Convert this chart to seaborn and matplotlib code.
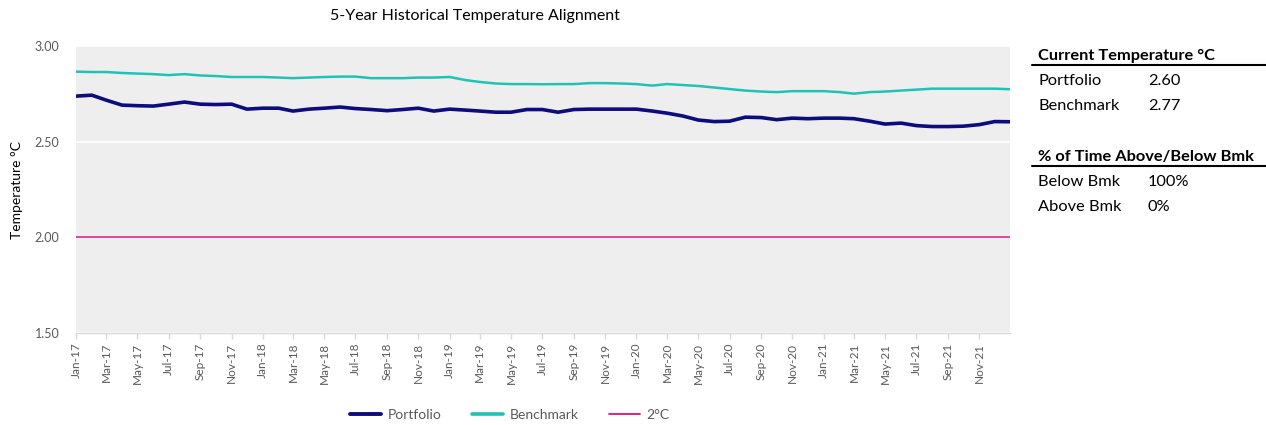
import matplotlib
matplotlib.use("Agg")
import matplotlib.pyplot as plt
import matplotlib.dates as mdates
from matplotlib.lines import Line2D
import seaborn as sns
import pandas as pd
import numpy as np

# ---------------- data ----------------
dates = list(pd.date_range("2017-01-01", periods=60, freq="MS")) + [pd.Timestamp("2021-12-31")]

portfolio = [2.738, 2.743, 2.717, 2.691, 2.688, 2.686, 2.696, 2.707, 2.696, 2.694,
             2.696, 2.670, 2.675, 2.675, 2.660, 2.670, 2.675, 2.681, 2.673, 2.668,
             2.662, 2.668, 2.675, 2.660, 2.670, 2.665, 2.660, 2.654, 2.654, 2.668,
             2.668, 2.654, 2.668, 2.670, 2.670, 2.670, 2.670, 2.660, 2.649, 2.634,
             2.613, 2.605, 2.607, 2.628, 2.626, 2.615, 2.623, 2.620, 2.623, 2.623,
             2.620, 2.607, 2.592, 2.597, 2.584, 2.579, 2.579, 2.581, 2.589, 2.605,
             2.604]

benchmark = [2.866, 2.864, 2.864, 2.859, 2.856, 2.853, 2.848, 2.853, 2.846, 2.843,
             2.838, 2.838, 2.838, 2.835, 2.832, 2.835, 2.838, 2.840, 2.840, 2.832,
             2.832, 2.832, 2.835, 2.835, 2.838, 2.822, 2.812, 2.804, 2.801, 2.801,
             2.800, 2.801, 2.801, 2.806, 2.806, 2.804, 2.801, 2.793, 2.801, 2.796,
             2.791, 2.783, 2.775, 2.767, 2.762, 2.759, 2.764, 2.764, 2.764, 2.759,
             2.751, 2.759, 2.762, 2.767, 2.772, 2.777, 2.777, 2.777, 2.777, 2.777,
             2.774]

two_deg = [2.00] * len(dates)

series_names = ["Portfolio", "Benchmark", "2°C"]
series_colors = ["#0C0C7E", "#1EC3B6", "#D9127F"]
series_widths = [2.6, 1.8, 1.1]

yticks = [1.50, 2.00, 2.50, 3.00]

table1_title = "Current Temperature \u00b0C"
table1_rows = [("Portfolio", "2.60"), ("Benchmark", "2.77")]
table2_title = "% of Time Above/Below Bmk"
table2_rows = [("Below Bmk", "100%"), ("Above Bmk", "0%")]

# ---------------- plotting ----------------
sns.set_theme(style="white")
plt.rcParams["font.family"] = ["Lato", "DejaVu Sans"]

df = pd.DataFrame({"date": dates * 3,
                   "value": portfolio + benchmark + two_deg,
                   "series": sum([[n] * len(dates) for n in series_names], [])})

fig = plt.figure(figsize=(12.66, 4.25), dpi=100)
ax = fig.add_axes([76 / 1266, 1 - 333 / 425, (1010 - 76) / 1266, (333 - 46) / 425])
ax.set_facecolor("#EEEEEE")

for name, col, lw in zip(series_names, series_colors, series_widths):
    sub = df[df["series"] == name]
    sns.lineplot(data=sub, x="date", y="value", ax=ax, color=col, linewidth=lw,
                 legend=False, zorder=3 if name != "2°C" else 2)

ax.set_ylim(1.50, 3.00)
ax.set_yticks(yticks)
ax.set_yticklabels([f"{v:.2f}" for v in yticks], fontsize=9, color="#595959")
ax.set_xlim(pd.Timestamp("2017-01-01"), pd.Timestamp("2021-12-31"))
ax.xaxis.set_major_locator(mdates.MonthLocator(bymonth=[1, 3, 5, 7, 9, 11]))
ax.xaxis.set_major_formatter(mdates.DateFormatter("%b-%y"))
plt.setp(ax.get_xticklabels(), rotation=90, fontsize=8.5, color="#595959")
ax.set_xlabel("")
ax.set_ylabel("")
fig.text(17 / 1266, 1 - 190 / 425, "Temperature \u00b0C", rotation=90,
         ha="center", va="center", fontsize=10, color="#000000")

ax.grid(axis="y", color="white", linewidth=1.2, zorder=1)
ax.grid(axis="x", visible=False)
for s in ["top", "right", "left"]:
    ax.spines[s].set_visible(False)
ax.spines["bottom"].set_color("#D9D9D9")
ax.spines["bottom"].set_linewidth(1)
ax.tick_params(axis="x", bottom=True, length=4, color="#D9D9D9", width=1, pad=3)
ax.tick_params(axis="y", left=False, length=0, pad=12)

fig.text(475 / 1266, 1 - 16 / 425, "5-Year Historical Temperature Alignment",
         ha="center", va="center", fontsize=11.5, color="#000000")

handles = [Line2D([0], [0], color=c, linewidth=lw)
           for c, lw in zip(series_colors, [2.8, 2.6, 1.3])]
fig.legend(handles, series_names, loc="center", bbox_to_anchor=(510 / 1266, 1 - 415 / 425),
           ncol=3, frameon=False, fontsize=10, handlelength=2.2, handletextpad=0.5,
           columnspacing=2.2, labelcolor="#595959")

# ---------------- right-hand summary tables ----------------
def draw_table(y_title, title, rows):
    fig.text(1038 / 1266, 1 - y_title / 425, title, ha="left", va="center",
             fontsize=11.8, fontweight="bold", color="#000000")
    fig.add_artist(Line2D([1032 / 1266, 1.0], [1 - (y_title + 9) / 425] * 2,
                          color="black", linewidth=1.5))
    for i, (lab, val) in enumerate(rows):
        yy = 1 - (y_title + 25 + 25 * i) / 425
        fig.text(1038 / 1266, yy, lab, ha="left", va="center", fontsize=11.8, color="#000000")
        fig.text(1148 / 1266, yy, val, ha="left", va="center", fontsize=11.8, color="#000000")

draw_table(56, table1_title, table1_rows)
draw_table(157, table2_title, table2_rows)

fig.savefig("out.png", dpi=100)
